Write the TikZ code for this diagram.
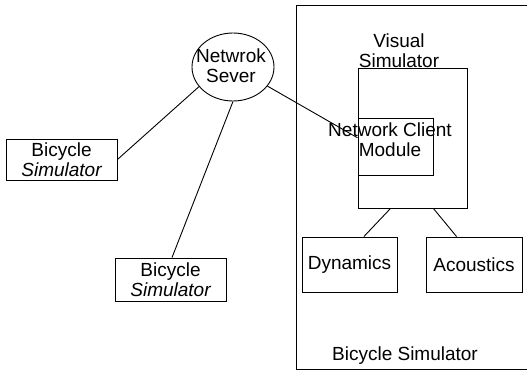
\documentclass[tikz,border=0pt]{standalone}
\usepackage{fontspec}
\setmainfont{Liberation Sans}
\usetikzlibrary{shapes.geometric,calc}
\begin{document}
\begin{tikzpicture}[x=1pt,y=-1pt,
  every node/.style={font=\fontsize{19}{20}\selectfont, inner sep=0pt, align=center},
  box/.style={draw, line width=0.9pt, rectangle},
  conn/.style={line width=0.9pt},
  lbl/.style={}]
\useasboundingbox (0,0) rectangle (527,372);
\clip (0,0) rectangle (527,372);
% outer container (open on right, cut by picture edge)
\draw[conn] (540,5) -- (296,5) -- (296,369) -- (540,369);
\node[lbl] (outerlbl) at (405,356) {Bicycle Simulator};
% visual simulator
\node[box, minimum width=109, minimum height=140] (vis) at (412.5,138) {};
\node[lbl] (vislbl) at (399,51) {Visual\\Simulator};
\node[box, minimum width=75, minimum height=57] (ncm) at (395.5,146.5) {};
\node[lbl] (ncmlbl) at (390,140) {Network Client\\Module};
\node[box, minimum width=95, minimum height=55] (dyn) at (349.5,264.5) {Dynamics};
\node[box, minimum width=96, minimum height=55] (aco) at (474,264.5) {Acoustics};
% server
\node[draw, ellipse, line width=0.9pt, minimum width=82, minimum height=68] (srv) at (233,67) {};
\node[lbl] (srvlbl) at (231,66) {Netwrok\\Sever};
% bicycle simulators
\node[box, minimum width=111, minimum height=41] (lb) at (61.5,159.5) {Bicycle\\\itshape Simulator};
\node[box, minimum width=111, minimum height=43] (lo) at (170.5,279.5) {Bicycle\\\itshape Simulator};
% connectors
\draw[conn] (srv.-29) -- ($(ncm.north west)!0.35!(ncm.south west)$);
\draw[conn] (srv.210) -- (lb.east);
\draw[conn] (srv.south) -- ($(lo.north)+(1.5,0)$);
\draw[conn] ($(vis.south west)!0.3!(vis.south east)$) -- ($(dyn.north west)!0.65!(dyn.north east)$);
\draw[conn] ($(vis.south west)!0.69!(vis.south east)$) -- ($(aco.north west)!0.32!(aco.north east)$);
\end{tikzpicture}
\end{document}
